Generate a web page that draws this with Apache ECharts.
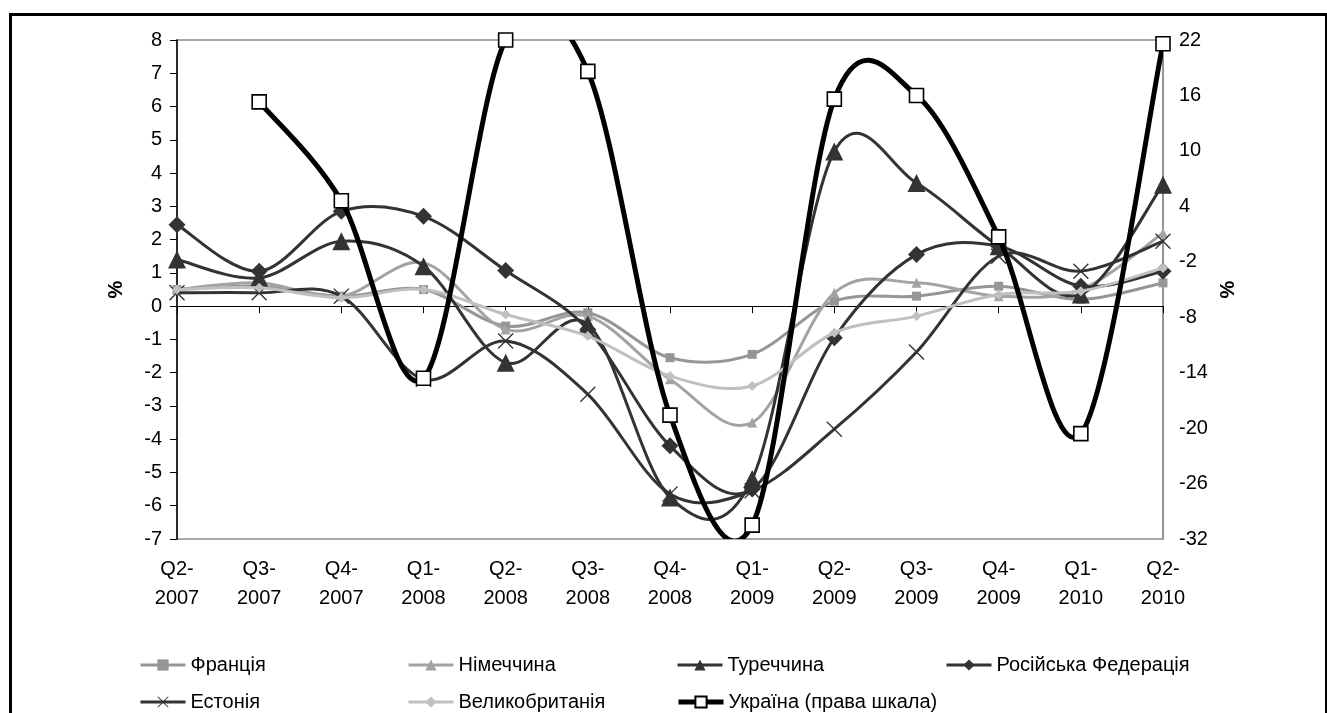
<!DOCTYPE html>
<html><head><meta charset="utf-8">
<script src="https://cdn.jsdelivr.net/npm/echarts@6/dist/echarts.min.js"></script>
<style>html,body{margin:0;padding:0;background:#fff}#c{width:1327px;height:713px}</style>
</head><body><div id="c"></div>
<script>
const categories = ['Q2-\n2007','Q3-\n2007','Q4-\n2007','Q1-\n2008','Q2-\n2008','Q3-\n2008','Q4-\n2008','Q1-\n2009','Q2-\n2009','Q3-\n2009','Q4-\n2009','Q1-\n2010','Q2-\n2010'];
const france  = [0.5, 0.6, 0.3, 0.5, -0.6, -0.2, -1.55, -1.45, 0.15, 0.3, 0.6, 0.2, 0.7];
const germany = [0.5, 0.7, 0.3, 1.3, -0.7, -0.3, -2.2, -3.5, 0.4, 0.7, 0.3, 0.5, 2.2];
const turkey  = [1.4, 0.85, 1.95, 1.2, -1.7, -0.55, -5.75, -5.2, 4.65, 3.7, 1.8, 0.35, 3.65];
const russia  = [2.45, 1.05, 2.85, 2.7, 1.07, -0.7, -4.2, -5.5, -0.95, 1.55, 1.8, 0.6, 1.05];
const estonia = [0.4, 0.4, 0.3, -2.2, -1.05, -2.65, -5.65, -5.55, -3.7, -1.38, 1.5, 1.05, 1.95];
const uk      = [0.5, 0.55, 0.25, 0.5, -0.25, -0.9, -2.1, -2.4, -0.8, -0.3, 0.35, 0.45, 1.15];
const ukraine = [null, 15.3, 4.6, -14.6, 22, 18.6, -18.6, -30.5, 15.6, 16.0, 0.7, -20.6, 21.6];
const rightTicks = [-32, -26, -20, -14, -8, -2, 4, 10, 16, 22];
const names = ['Франція','Німеччина','Туреччина','Російська Федерація','Естонія','Великобританія','Україна (права шкала)'];

const FONT = 'Liberation Sans, Arial, sans-serif';
const FS = 20;
const xPath = 'path://M0,0.6L0.6,0L5,4.4L9.4,0L10,0.6L5.6,5L10,9.4L9.4,10L5,5.6L0.6,10L0,9.4L4.4,5Z';

// Excel-like smoothed curve drawn through the axes' own coordinate conversion
function curvePath(pts) {
  let d = 'M' + pts[0][0] + ',' + pts[0][1];
  for (let i = 0; i < pts.length - 1; i++) {
    const p0 = pts[i - 1] || pts[i], p1 = pts[i], p2 = pts[i + 1], p3 = pts[i + 2] || pts[i + 1];
    const c1x = p1[0] + (p2[0] - p0[0]) / 6, c1y = p1[1] + (p2[1] - p0[1]) / 6;
    const c2x = p2[0] - (p3[0] - p1[0]) / 6, c2y = p2[1] - (p3[1] - p1[1]) / 6;
    d += 'C' + c1x + ',' + c1y + ',' + c2x + ',' + c2y + ',' + p2[0] + ',' + p2[1];
  }
  return d;
}
function curveSeries(key, values, color, width, yIdx, z) {
  return {
    type: 'custom', name: key + '_curve', xAxisIndex: 0, yAxisIndex: yIdx, z: z,
    clip: true, silent: true, animation: false,
    data: values.map((v, i) => [i, 0]),
    encode: { x: 0, y: 1 },
    renderItem: function (params, api) {
      if (params.dataIndex !== 0) return null;
      const segs = []; let cur = [];
      values.forEach((v, i) => {
        if (v == null) { if (cur.length) segs.push(cur); cur = []; }
        else cur.push(api.coord([i, v]));
      });
      if (cur.length) segs.push(cur);
      const cs = params.coordSys;
      return {
        type: 'group',
        children: segs.filter(s => s.length > 1).map(s => ({
          type: 'path', shape: { pathData: curvePath(s) },
          style: { fill: 'none', stroke: color, lineWidth: width, lineJoin: 'round', lineCap: 'round' }
        })),
        clipPath: { type: 'rect', shape: { x: cs.x, y: cs.y, width: cs.width, height: cs.height } }
      };
    }
  };
}
function markSeries(name, data, color, symbol, size, yIdx, z, itemStyle) {
  return {
    name: name, type: 'line', data: data, yAxisIndex: yIdx, z: z,
    symbol: symbol, symbolSize: size, showAllSymbol: true, connectNulls: false,
    lineStyle: { width: 0, color: color },
    itemStyle: itemStyle || { color: color },
    emphasis: { disabled: true }, animation: false
  };
}

const cfg = [
  { n: names[0], d: france,  c: '#969696', s: 'rect',     sz: 9,  w: 3, y: 0 },
  { n: names[1], d: germany, c: '#a3a3a3', s: 'triangle', sz: 10, w: 3, y: 0 },
  { n: names[2], d: turkey,  c: '#333333', s: 'triangle', sz: 18, w: 3, y: 0 },
  { n: names[3], d: russia,  c: '#333333', s: 'diamond',  sz: 17, w: 3, y: 0 },
  { n: names[4], d: estonia, c: '#333333', s: xPath,      sz: 16, w: 3, y: 0 },
  { n: names[5], d: uk,      c: '#c0c0c0', s: 'diamond',  sz: 10, w: 3, y: 0 },
  { n: names[6], d: ukraine, c: '#000000', s: 'rect',     sz: 14, w: 5, y: 1, it: { color: '#ffffff', borderColor: '#000000', borderWidth: 1.6 } }
];

const series = [];
cfg.forEach((c, i) => {
  const base = i === 6 ? 20 : 3 + i * 2;
  series.push(curveSeries('s' + i, c.d, c.c, c.w, c.y, base));
  series.push(markSeries(c.n, c.d, c.c, c.s, c.sz, c.y, base + 1, c.it));
});

const legendPos = [[139,666],[407,666],[676,666],[945,666],[139,703],[407,703],[676,703]];
const legends = cfg.map((c, i) => ({
  data: [{ name: c.n, lineStyle: { color: c.c, width: c.w, opacity: 1 } }],
  left: legendPos[i][0], top: legendPos[i][1] - 11,
  itemWidth: 45, itemHeight: 14, padding: 0,
  textStyle: { fontFamily: FONT, fontSize: FS, color: '#000' },
  selectedMode: false
}));

const chart = echarts.init(document.getElementById('c'), null, { renderer: 'canvas' });
chart.setOption({
  animation: false,
  backgroundColor: '#fff',
  textStyle: { fontFamily: FONT },
  grid: { left: 177, right: 164, top: 40, bottom: 174, show: true, borderColor: '#8c8c8c', borderWidth: 1.5, backgroundColor: 'transparent' },
  legend: legends,
  xAxis: [
    { type: 'category', data: categories, boundaryGap: false, position: 'bottom',
      axisLine: { show: false }, axisTick: { show: false }, splitLine: { show: false },
      axisLabel: { interval: 0, margin: 16, fontFamily: FONT, fontSize: FS, color: '#000', lineHeight: 29 } },
    { type: 'category', data: categories, boundaryGap: false, position: 'bottom',
      axisLine: { show: true, onZero: true, onZeroAxisIndex: 0, lineStyle: { color: '#000', width: 1.2 } },
      axisTick: { show: true, interval: 0, length: 7, lineStyle: { color: '#000', width: 1 } },
      axisLabel: { show: false }, splitLine: { show: false } }
  ],
  yAxis: [
    { type: 'value', min: -7, max: 8, interval: 1, position: 'left',
      name: '%', nameLocation: 'middle', nameRotate: 90, nameGap: 51,
      nameTextStyle: { fontFamily: FONT, fontSize: FS, fontWeight: 'bold', color: '#000' },
      axisLine: { show: true, onZero: false, lineStyle: { color: '#000', width: 1.5 } },
      axisTick: { show: true, length: 7, lineStyle: { color: '#000' } },
      axisLabel: { margin: 15, fontFamily: FONT, fontSize: FS, color: '#000' },
      splitLine: { show: false } },
    { type: 'value', min: -32, max: 22, position: 'right',
      name: '%', nameLocation: 'middle', nameRotate: 90, nameGap: 55,
      nameTextStyle: { fontFamily: FONT, fontSize: FS, fontWeight: 'bold', color: '#000' },
      axisLine: { show: true, onZero: false, lineStyle: { color: '#8c8c8c', width: 1.5 } },
      axisTick: { show: false },
      axisLabel: { margin: 16, fontFamily: FONT, fontSize: FS, color: '#000', customValues: rightTicks },
      splitLine: { show: false } }
  ],
  graphic: [{
    type: 'rect', left: 8, top: 12, silent: true, z: 100,
    shape: { width: 1316, height: 720 },
    style: { fill: 'none', stroke: '#000', lineWidth: 3 }
  }],
  series: series
});
</script>
</body></html>
